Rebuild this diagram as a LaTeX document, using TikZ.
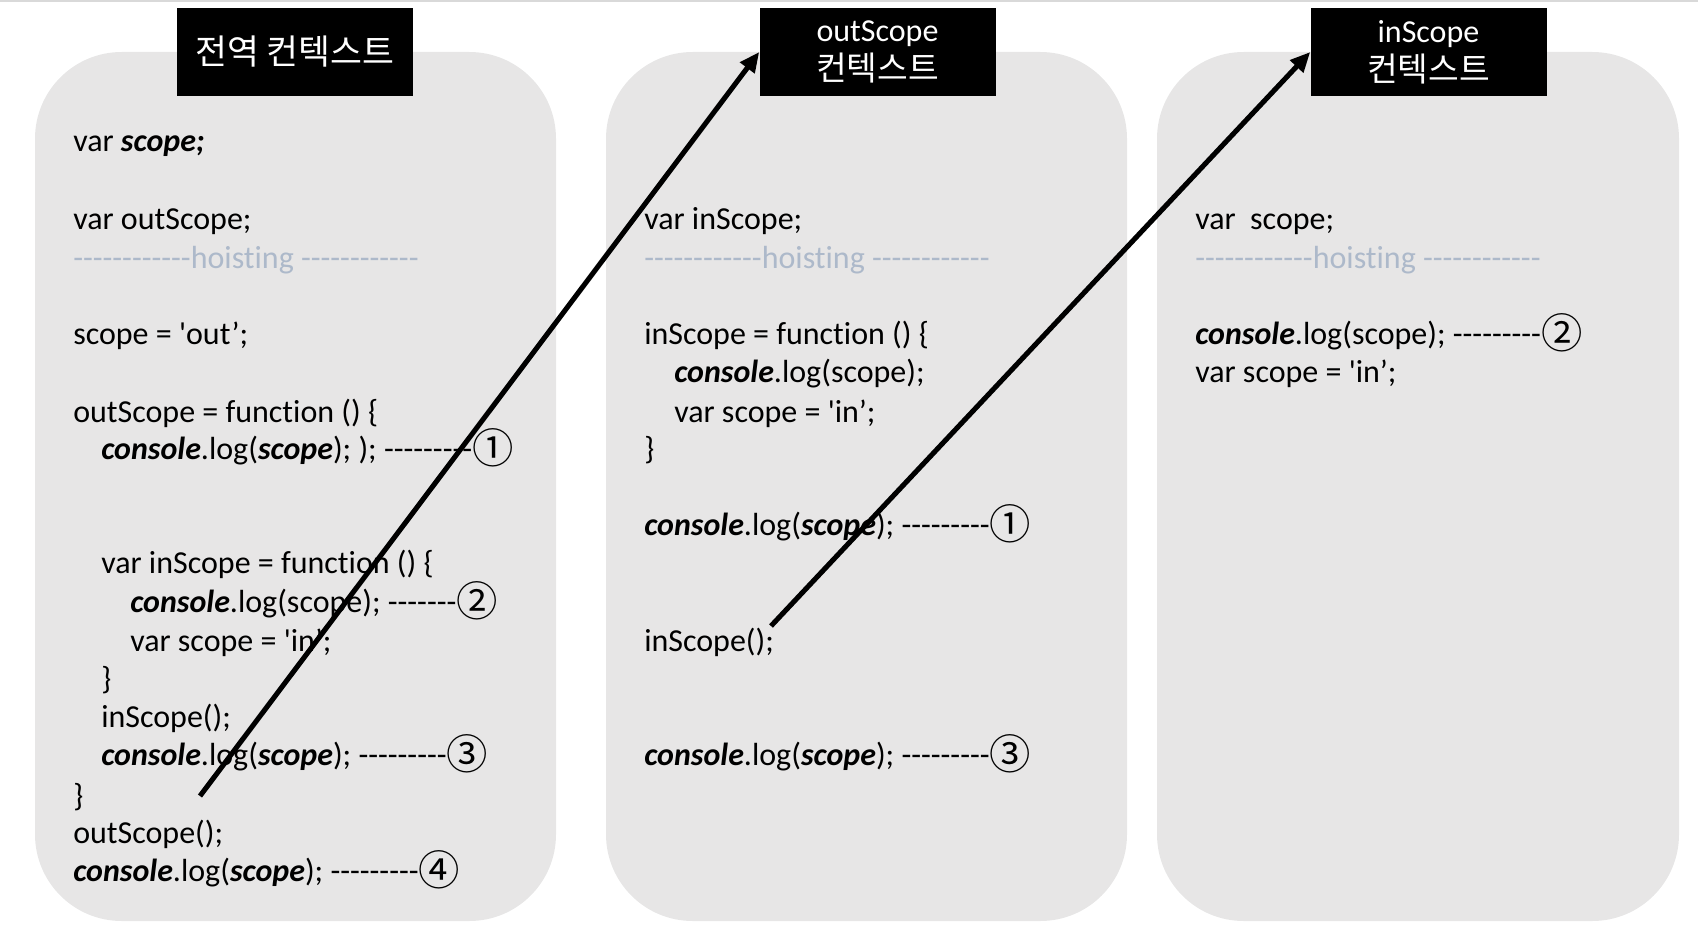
\documentclass[tikz,border=0pt]{standalone}
\usepackage{fontspec}
\usetikzlibrary{arrows.meta}
\newfontfamily\codefont{Carlito}[Ligatures={CommonOff}]
\newfontfamily\krfont{Noto Sans CJK KR}
\definecolor{panelgray}{HTML}{E7E6E6}
\definecolor{hoistgray}{HTML}{ADB9CA}
\definecolor{topline}{HTML}{D9D9D9}
\newcommand{\bi}[1]{{\bfseries\itshape #1}}
\newcommand{\kr}[1]{{\krfont #1}}
\newcommand{\circnum}[1]{\raisebox{-3.6pt}{\krfont\fontsize{31}{31}\selectfont #1}}
\begin{document}
\begin{tikzpicture}[x=0.75pt,y=-0.75pt,
  panel/.style={fill=panelgray, draw=none, rounded corners=65pt},
  ctxlabel/.style={fill=black, text=white, inner sep=0pt, minimum width=177pt, minimum height=66pt, align=center, font=\fontsize{24}{25}\selectfont},
  code/.style={anchor=base west, inner sep=0pt, font=\codefont\fontsize{24}{29}\selectfont},
  hoist/.style={code, text=hoistgray},
  callarrow/.style={line width=3.8pt, -{Triangle[length=15pt,width=13pt]}}]
\useasboundingbox (0,0) rectangle (1698,934);
\fill[topline] (0,0) rectangle (1698,2);
% panels
\fill[panel] (35,52) rectangle (556,921);
\fill[panel] (606,52) rectangle (1127,921);
\fill[panel] (1157,52) rectangle (1679,921);
% labels
\node[ctxlabel] (lab1) at (295,52) {\kr{\fontsize{26}{26}\selectfont 전역 컨텍스트}};
\node[ctxlabel] (lab2) at (877.5,52) {{\codefont outScope}\\[4pt]\kr{\fontsize{25}{25}\selectfont 컨텍스트}};
\node[ctxlabel] (lab3) at (1428.5,52) {{\codefont inScope}\\[4pt]\kr{\fontsize{25}{25}\selectfont 컨텍스트}};
% panel 1
\node[code] (a1) at (73,152) {var \bi{scope;}};
\node[code] (a2) at (73,230) {var outScope;};
\node[hoist] (a3) at (73,268) {------------hoisting ------------};
\node[code] (a4) at (73,344) {scope = 'out’;};
\node[code] (a5) at (73,422) {outScope = function () \{};
\node[code] (a6) at (101,459) {\bi{console}.log(\bi{scope}); ); ---------\circnum{①}};
\node[code] (a7) at (101,573) {var inScope = function () \{};
\node[code] (a8) at (130,612) {\bi{console}.log(scope); -------\circnum{②}};
\node[code] (a9) at (130,651) {var scope = 'in’;};
\node[code] (a10) at (101,689) {\}};
\node[code] (a11) at (101,727) {inScope();};
\node[code] (a12) at (101,765) {\bi{console}.log(\bi{scope}); ---------\circnum{③}};
\node[code] (a13) at (73,806) {\}};
\node[code] (a14) at (73,843) {outScope();};
\node[code] (a15) at (73,881) {\bi{console}.log(\bi{scope}); ---------\circnum{④}};
% panel 2
\node[code] (b1) at (644,230) {var inScope;};
\node[hoist] (b2) at (644,268) {------------hoisting ------------};
\node[code] (b3) at (644,344) {inScope = function () \{};
\node[code] (b4) at (674,382) {\bi{console}.log(scope);};
\node[code] (b5) at (674,422) {var scope = 'in’;};
\node[code] (b6) at (644,459) {\}};
\node[code] (b7) at (644,535) {\bi{console}.log(\bi{scope}); ---------\circnum{①}};
\node[code] (b8) at (644,651) {inScope();};
\node[code] (b9) at (644,765) {\bi{console}.log(\bi{scope}); ---------\circnum{③}};
% panel 3
\node[code] (c1) at (1195,230) {var~\ scope;};
\node[hoist] (c2) at (1195,268) {------------hoisting ------------};
\node[code] (c3) at (1195,344) {\bi{console}.log(scope); ---------\circnum{②}};
\node[code] (c4) at (1195,382) {var scope = 'in’;};
% arrows
\coordinate (s1) at (200,796);
\coordinate (s2) at (771,626);
\draw[callarrow] (s1) -- (lab2.west);
\draw[callarrow] (s2) -- (lab3.west);
\end{tikzpicture}
\end{document}
